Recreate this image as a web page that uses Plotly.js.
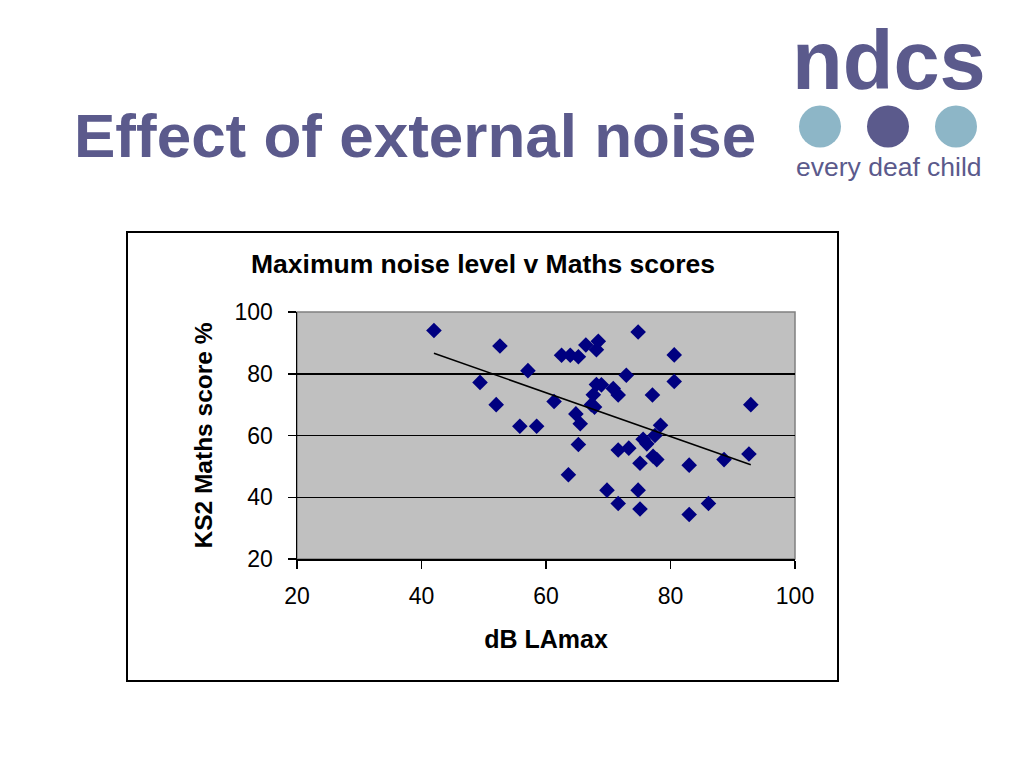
<!DOCTYPE html>
<html>
<head>
<meta charset="utf-8">
<script src="https://cdn.plot.ly/plotly-3.0.1.min.js"></script>
<style>
html,body{margin:0;padding:0;background:#ffffff;}
#chart{width:1024px;height:768px;}
</style>
</head>
<body>
<div id="chart"></div>
<script>
// ---- data ----
const noiseDb = [42.0, 52.6, 49.4, 52.0, 57.1, 55.8, 58.5, 61.3, 62.5, 63.9,
  65.2, 66.4, 68.4, 68.1, 74.8, 80.6, 72.9, 80.6, 68.1, 68.9,
  70.8, 71.6, 77.1, 67.6, 67.3, 67.8, 64.8, 65.5, 65.2, 63.6,
  78.4, 77.5, 75.6, 76.2, 71.6, 73.3, 75.1, 77.2, 77.8, 69.8,
  74.8, 71.6, 75.1, 92.9, 92.6, 88.6, 83.0, 86.1, 83.0];
const mathsScore = [94.0, 89.0, 77.2, 70.0, 81.0, 63.0, 63.0, 71.0, 86.0, 86.0,
  85.5, 89.3, 90.5, 87.8, 93.5, 86.1, 79.5, 77.5, 76.5, 76.4,
  75.2, 73.1, 73.1, 73.2, 70.0, 69.2, 67.0, 63.8, 57.1, 47.3,
  63.3, 60.0, 58.8, 57.3, 55.3, 55.9, 51.0, 53.3, 52.2, 42.3,
  42.3, 38.0, 36.2, 70.0, 54.0, 52.2, 50.4, 38.0, 34.4];
const xTickVals = [20, 40, 60, 80, 100];
const yTickVals = [20, 40, 60, 80, 100];
const slideTitle = "Effect of external noise";
const chartTitle = "Maximum noise level v Maths scores";
const xTitle = "dB LAmax";
const yTitle = "KS2 Maths score %";
const logoWord = "ndcs";
const logoTagline = "every deaf child";

// ---- linear trend line (least squares) ----
const n = noiseDb.length;
let sx=0, sy=0, sxx=0, sxy=0;
for (let i=0;i<n;i++){ sx+=noiseDb[i]; sy+=mathsScore[i]; sxx+=noiseDb[i]*noiseDb[i]; sxy+=noiseDb[i]*mathsScore[i]; }
const slope = (n*sxy - sx*sy)/(n*sxx - sx*sx);
const intercept = (sy - slope*sx)/n;
const xMin = Math.min(...noiseDb), xMax = Math.max(...noiseDb);
const trendX = [xMin, xMax];
const trendY = trendX.map(v => intercept + slope*v);

// ---- layout geometry (pixels) ----
const L = 297, T = 312, W = 498, H = 247;
const px = p => (p - L) / W;
const py = p => (T + H - p) / H;

const FONT = "'Liberation Sans', Arial, Helvetica, sans-serif";
const PURPLE = "#5b5a8c";
const LIGHTBLUE = "#8db6c7";

const traces = [
  {
    type: "scatter", mode: "markers", x: noiseDb, y: mathsScore,
    marker: {symbol: "diamond", size: 12, color: "#000080"},
    hoverinfo: "x+y", showlegend: false
  },
  {
    type: "scatter", mode: "lines", x: trendX, y: trendY,
    line: {color: "#000000", width: 1.5},
    hoverinfo: "skip", showlegend: false
  }
];

function circle(cx, cy, r, color){
  return {type:"circle", xref:"paper", yref:"paper",
    x0: px(cx-r), x1: px(cx+r), y0: py(cy+r), y1: py(cy-r),
    fillcolor: color, line:{width:0}, layer:"above"};
}

const layout = {
  width: 1024, height: 768,
  margin: {l: L, r: 1024 - L - W, t: T, b: 768 - T - H, pad: 0},
  paper_bgcolor: "#ffffff",
  plot_bgcolor: "#c0c0c0",
  font: {family: FONT, color: "#000000"},
  showlegend: false,
  xaxis: {
    range: [20, 100], tickvals: xTickVals, ticktext: xTickVals.map(String),
    showgrid: false, zeroline: false,
    showline: true, linecolor: "#000000", linewidth: 1.5,
    ticks: "outside", ticklen: 8, tickwidth: 1.5, tickcolor: "#000000",
    ticklabelstandoff: 8,
    tickfont: {size: 23, family: FONT, color: "#000000"},
    title: {text: xTitle, font: {size: 25, family: FONT, weight: "bold", color: "#000000"}, standoff: 22},
    automargin: false, fixedrange: true
  },
  yaxis: {
    range: [20, 100], tickvals: yTickVals, ticktext: yTickVals.map(String),
    showgrid: true, gridcolor: "#000000", gridwidth: 1.5, zeroline: false,
    showline: true, linecolor: "#000000", linewidth: 1.5,
    ticks: "outside", ticklen: 8, tickwidth: 1.5, tickcolor: "#000000",
    ticklabelstandoff: 10,
    tickfont: {size: 23, family: FONT, color: "#000000"},
    title: {text: yTitle, font: {size: 24.5, family: FONT, weight: "bold", color: "#000000"}, standoff: 15},
    automargin: false, fixedrange: true
  },
  shapes: [
    // chart frame
    {type:"rect", xref:"paper", yref:"paper", x0: px(127), x1: px(838), y0: py(681), y1: py(232),
      line:{color:"#000000", width:2}, fillcolor:"rgba(0,0,0,0)", layer:"below"},
    // plot-area border (top/right grey)
    {type:"rect", xref:"paper", yref:"paper", x0: 0, x1: 1, y0: 0, y1: 1,
      line:{color:"#808080", width:1.5}, fillcolor:"rgba(0,0,0,0)", layer:"below"},
    circle(820, 126.5, 21, LIGHTBLUE),
    circle(888, 126.5, 21, PURPLE),
    circle(956, 126.5, 21, LIGHTBLUE)
  ],
  annotations: [
    {text: slideTitle, xref:"paper", yref:"paper", x: px(72), y: py(135),
      xanchor:"left", yanchor:"middle", showarrow:false,
      font:{size: 62, family: FONT, weight:"bold", color: PURPLE}},
    {text: chartTitle, xref:"paper", yref:"paper", x: px(483), y: py(264),
      xanchor:"center", yanchor:"middle", showarrow:false,
      font:{size: 26.5, family: FONT, weight:"bold", color:"#000000"}},
    {text: logoWord, xref:"paper", yref:"paper", x: px(889), y: py(61),
      xanchor:"center", yanchor:"middle", showarrow:false,
      font:{size: 83, family: FONT, weight:"bold", color: PURPLE}},
    {text: logoTagline, xref:"paper", yref:"paper", x: px(889), y: py(167),
      xanchor:"center", yanchor:"middle", showarrow:false,
      font:{size: 26.5, family: FONT, color: PURPLE}}
  ]
};

Plotly.newPlot("chart", traces, layout, {displayModeBar: false, staticPlot: true});
</script>
</body>
</html>
